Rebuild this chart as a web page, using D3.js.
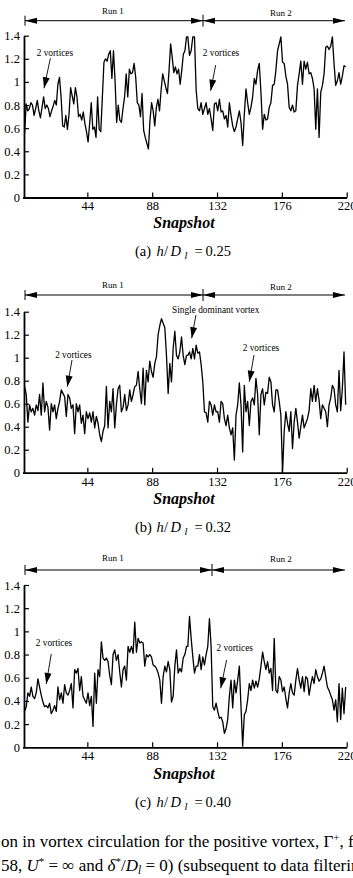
<!DOCTYPE html>
<html><head><meta charset="utf-8">
<script src="https://cdn.jsdelivr.net/npm/d3@7"></script>
<style>
body{margin:0;background:#fff;}
svg{display:block;font-family:"Liberation Serif","Times New Roman",serif;}
</style></head>
<body><svg id="c" width="353" height="878"></svg>
<script>
// ---------- DATA ----------
const xTicks = [44, 88, 132, 176, 220];
const yTicks = [0, 0.2, 0.4, 0.6, 0.8, 1, 1.2, 1.4];
const captions = ["0.25", "0.32", "0.40"];
const captionLetters = ["(a)", "(b)", "(c)"];
// Γ+ per snapshot, first part = Run 1 region, second part = remainder
const gammaA1 = [0.55,0.81,0.75,0.77,0.82,0.80,0.71,0.77,0.84,0.75,0.69,0.78,0.87,0.77,0.80,0.77,0.70,0.75,0.79,0.84,
 0.80,0.98,1.04,0.87,0.62,0.61,0.71,0.59,0.72,0.95,0.88,0.81,0.95,0.87,0.70,0.72,0.67,0.74,0.64,0.57,
 0.48,0.64,0.82,0.59,0.61,0.52,0.87,0.59,0.57,0.87,1.17,1.20,1.18,1.24,1.27,1.03,1.27,1.01,0.65,0.80,
 0.67,0.65,0.77,0.87,1.07,0.87,1.11,1.07,1.08,1.16,1.04,0.82,0.80,0.70,0.90,0.58,0.52,0.47,0.42,0.67,
 0.82,0.75,0.62,0.78,0.85,0.75,0.93,1.07,1.01,0.95,0.90,1.10,1.33,1.21,1.08,1.13,1.07,1.11,0.98,1.10,
 1.24,1.27,1.39];
const gammaA2 = [1.39,1.23,1.27,1.39,1.39,0.93,0.77,0.75,0.82,0.72,0.77,0.82,0.72,0.77,0.68,0.58,0.81,0.82,0.75,0.85,
 0.74,0.75,0.68,0.71,0.61,0.82,0.71,0.62,0.57,0.61,0.68,0.75,0.65,0.45,0.72,0.94,0.82,0.72,0.78,0.87,
 1.03,0.98,1.10,1.16,0.91,0.59,0.72,0.67,0.68,0.78,0.82,0.97,0.98,1.10,1.27,1.33,1.39,1.17,1.16,1.05,
 0.98,0.78,0.75,0.80,0.74,0.75,0.97,1.07,1.18,0.98,1.18,1.11,1.17,1.07,1.08,1.03,0.94,0.59,0.94,0.52,
 0.91,0.97,1.07,1.30,1.31,1.28,1.31,1.39,1.16,0.97,1.01,1.08,0.98,1.05,1.14,1.13];
const gammaB1 = [0.75,0.68,0.44,0.59,0.53,0.56,0.50,0.59,0.54,0.68,0.50,0.78,0.53,0.62,0.57,0.37,0.60,0.53,0.59,0.47,
 0.56,0.62,0.72,0.69,0.66,0.49,0.68,0.65,0.56,0.59,0.34,0.60,0.53,0.59,0.43,0.50,0.34,0.53,0.47,0.52,
 0.44,0.53,0.39,0.49,0.43,0.33,0.27,0.36,0.41,0.75,0.39,0.62,0.53,0.73,0.39,0.59,0.73,0.76,0.53,0.57,
 0.68,0.54,0.59,0.72,0.62,0.68,0.75,0.76,0.88,0.73,0.60,0.91,0.59,0.89,0.79,0.97,0.88,0.83,0.95,1.01,
 1.20,1.28,1.34,1.30,1.26,1.02,0.69,0.95,0.79,1.08,1.23,1.02,0.99,1.05,1.18,1.02,0.94,1.02];
const gammaB2 = [1.02,1.05,0.99,1.08,0.99,1.11,1.04,1.05,0.94,0.79,0.53,0.52,0.44,0.62,0.59,0.50,0.59,0.53,0.53,0.44,
 0.62,0.60,0.47,0.41,0.50,0.39,0.33,0.39,0.11,0.50,0.59,0.78,0.59,0.18,0.76,0.53,0.62,0.41,0.62,0.65,
 0.59,0.82,0.68,0.33,0.68,0.73,0.59,0.70,0.69,0.83,0.79,0.59,0.53,0.72,0.72,0.62,0.50,0.00,0.36,0.53,
 0.43,0.36,0.53,0.21,0.44,0.56,0.44,0.30,0.40,0.50,0.39,0.43,0.47,0.54,0.73,0.62,0.76,0.62,0.73,0.63,
 0.47,0.59,0.56,0.53,0.40,0.59,0.65,0.76,0.73,0.59,0.53,0.89,0.54,0.73,1.05,0.59];
const gammaC1 = [0.31,0.35,0.47,0.44,0.52,0.44,0.42,0.47,0.59,0.52,0.45,0.39,0.35,0.36,0.34,0.38,0.29,0.32,0.36,0.31,
 0.52,0.41,0.47,0.38,0.54,0.47,0.45,0.49,0.55,0.34,0.67,0.64,0.68,0.49,0.61,0.44,0.41,0.38,0.47,0.36,
 0.44,0.18,0.64,0.38,0.67,0.61,0.91,0.77,0.75,0.77,0.74,0.62,0.54,0.80,0.84,0.75,0.80,0.65,0.52,0.67,
 0.70,0.58,0.87,0.82,0.87,0.81,1.08,0.82,0.94,0.90,0.91,0.90,0.70,0.80,0.78,0.80,0.78,0.71,0.70,0.68,
 0.64,0.58,0.38,0.61,0.70,0.65,0.74,0.67,0.39,0.44,0.70,0.84,0.64,0.68,0.65,0.77,0.80,0.87];
const gammaC2 = [0.87,1.13,0.94,0.78,0.64,0.70,0.70,0.80,0.67,0.78,0.71,0.80,0.87,1.11,0.87,0.35,0.32,0.38,0.31,0.25,
 0.26,0.22,0.12,0.16,0.24,0.44,0.58,0.34,0.58,0.47,0.58,0.70,0.35,0.01,0.28,0.31,0.41,0.55,0.49,0.58,
 0.51,0.57,0.52,0.59,0.70,0.82,0.74,0.67,0.74,0.64,0.68,0.49,0.94,0.49,0.47,0.61,0.58,0.48,0.52,0.42,
 0.34,0.47,0.55,0.47,0.45,0.58,0.68,0.58,0.51,0.61,0.48,0.61,0.59,0.45,0.54,0.61,0.55,0.67,0.61,0.57,
 0.59,0.64,0.70,0.61,0.52,0.49,0.45,0.41,0.32,0.41,0.22,0.55,0.24,0.51,0.29,0.52];
const runBoundary = [122.5, 122.5, 128.6];
const runLabels = ["Run 1", "Run 2"];
// annotations: [text, textSnap, textVal, fromSnap, fromVal, tipSnap, tipVal]
const notesA = [["2 vortices",22.0,1.247,18.9,1.204,14.6,0.945],["2 vortices",134.7,1.247,131.1,1.146,127.7,0.924]];
const notesB = [["2 vortices",34.5,1.023,33.6,0.980,30.4,0.748],["Single dominant vortex",131.1,1.415,117.7,1.371,114.8,1.169],["2 vortices",161.8,1.087,157.1,1.023,153.9,0.791]];
const notesC = [["2 vortices",21.4,0.897,19.5,0.805,16.1,0.546],["2 vortices",144.0,0.854,138.5,0.753,134.5,0.509]];

// ---------- DRAW ----------
const svg = d3.select("#c");
const x = d3.scaleLinear().domain([0, 220]).range([22.5, 346.7]);
const panels = [
  {p1: gammaA1, p2: gammaA2, y0: 197.5, y14: 35.7, arrowY: 20.7, lab: [10.7, 13.3], snapY: 222.7, capY: 251, notes: notesA},
  {p1: gammaB1, p2: gammaB2, y0: 472.7, y14: 311.7, arrowY: 295, lab: [285, 287.3], snapY: 498, capY: 527, notes: notesB},
  {p1: gammaC1, p2: gammaC2, y0: 747.3, y14: 585, arrowY: 570, lab: [558, 559], snapY: 773, capY: 801.7, notes: notesC}
];

function tri(g, tipX, tipY, dx, dy, len, hw) {
  const L = Math.hypot(dx, dy), ux = dx / L, uy = dy / L;
  const bx = tipX - ux * len, by = tipY - uy * len;
  g.append("path").attr("d", `M${tipX},${tipY}L${bx - uy*hw},${by + ux*hw}L${bx + uy*hw},${by - ux*hw}Z`).attr("fill", "#000");
}

panels.forEach((P, k) => {
  const y = d3.scaleLinear().domain([0, 1.4]).range([P.y0, P.y14]);
  const g = svg.append("g");
  const vals = P.p1.concat(P.p2);
  const n1 = P.p1.length, n = vals.length;
  const snap = d3.scaleLinear().domain([0, n1 - 1, n1, n - 1]).range([1.4, 111.3, 112.2, 219.3]);

  // axes
  const xa = d3.axisBottom(x).tickValues(xTicks).tickSize(-5).tickSizeOuter(0).tickPadding(4).tickFormat(d3.format("d"));
  const gx = g.append("g").attr("transform", `translate(0,${P.y0})`).call(xa);
  gx.select(".domain").attr("stroke-width", 1.8);
  gx.selectAll(".tick line").attr("stroke-width", 1.2);
  gx.selectAll("text").attr("font-size", 12.5).attr("font-family", "Liberation Serif").attr("fill", "#000");

  const ya = d3.axisLeft(y).tickValues(yTicks).tickSize(-5).tickSizeOuter(0).tickPadding(4).tickFormat(d => String(+d.toFixed(1)));
  const gy = g.append("g").attr("transform", `translate(${x(1)},0)`).call(ya);
  gy.select(".domain").attr("stroke-width", 1.8);
  gy.selectAll(".tick line").attr("stroke-width", 1.2);
  gy.selectAll(".tick").filter(d => d === 0).select("line").remove();
  gy.selectAll("text").attr("font-size", 12.5).attr("font-family", "Liberation Serif").attr("fill", "#000");

  // data line
  g.append("path").datum(vals)
    .attr("d", d3.line().x((d, i) => x(snap(i))).y(d => y(d)))
    .attr("fill", "none").attr("stroke", "#000").attr("stroke-width", 1.3).attr("stroke-linejoin", "round");

  // run arrows
  const ay = P.arrowY, xl = x(1.7), xm = x(runBoundary[k]), xr = x(218.8);
  g.append("line").attr("x1", xl).attr("x2", xr).attr("y1", ay).attr("y2", ay).attr("stroke", "#000").attr("stroke-width", 1);
  g.append("line").attr("x1", xl).attr("x2", xl).attr("y1", ay - 5).attr("y2", ay + 5).attr("stroke", "#000").attr("stroke-width", 1);
  g.append("line").attr("x1", xm).attr("x2", xm).attr("y1", ay - 6).attr("y2", ay + 6).attr("stroke", "#000").attr("stroke-width", 1);
  tri(g, xl, ay, -1, 0, 12, 3);
  tri(g, xm, ay, 1, 0, 12, 3);
  tri(g, xm, ay, -1, 0, 12, 3);
  tri(g, xr, ay, 1, 0, 12, 3);
  g.append("text").attr("x", x(61.4)).attr("y", P.lab[0]).attr("text-anchor", "middle").attr("dominant-baseline", "central").attr("font-size", 9).text(runLabels[0]);
  g.append("text").attr("x", x(175.4)).attr("y", P.lab[1]).attr("text-anchor", "middle").attr("dominant-baseline", "central").attr("font-size", 9).text(runLabels[1]);

  // annotations
  P.notes.forEach(a => {
    g.append("text").attr("x", x(a[1])).attr("y", y(a[2])).attr("text-anchor", "middle").attr("dominant-baseline", "central").attr("font-size", 9.3).text(a[0]);
    const fx = x(a[3]), fy = y(a[4]), tx = x(a[5]), ty = y(a[6]);
    g.append("line").attr("x1", fx).attr("y1", fy).attr("x2", tx).attr("y2", ty).attr("stroke", "#000").attr("stroke-width", 0.9);
    tri(g, tx, ty, tx - fx, ty - fy, 11, 3.5);
  });

  // x label
  g.append("text").attr("x", 184).attr("y", P.snapY).attr("text-anchor", "middle").attr("dominant-baseline", "central")
    .attr("font-size", 16).attr("font-weight", "bold").attr("font-style", "italic").text("Snapshot");

  // caption (math-style spacing)
  const cy = P.capY + 5;
  const c = g.append("text").attr("y", cy).attr("font-size", 14.5);
  c.append("tspan").attr("x", 135).text(captionLetters[k]);
  c.append("tspan").attr("x", 156.5).attr("font-style", "italic").text("h");
  c.append("tspan").attr("x", 164).text("/");
  c.append("tspan").attr("x", 170.5).attr("font-style", "italic").text("D");
  c.append("tspan").attr("x", 184.5).attr("y", cy + 3).attr("font-style", "italic").attr("font-size", 10.5).text("l");
  c.append("tspan").attr("x", 194.5).attr("y", cy).text("=");
  c.append("tspan").attr("x", 205.5).text(captions[k]);
});

// figure caption fragment
const t1 = svg.append("text").attr("x", 1).attr("y", 847).attr("font-size", 17);
t1.append("tspan").text("on in vortex circulation for the positive vortex, Γ");
t1.append("tspan").attr("font-size", 11).attr("dy", -6).text("+");
t1.append("tspan").attr("dy", 6).text(", for");
const t2 = svg.append("text").attr("x", 1).attr("y", 871).attr("font-size", 17);
t2.append("tspan").text("58, ");
t2.append("tspan").attr("font-style", "italic").text("U");
t2.append("tspan").attr("font-size", 11).attr("dy", -6).text("*");
t2.append("tspan").attr("dy", 6).text(" = ∞ and ");
t2.append("tspan").attr("font-style", "italic").text("δ");
t2.append("tspan").attr("font-size", 11).attr("dy", -6).text("*");
t2.append("tspan").attr("dy", 6).text("/");
t2.append("tspan").attr("font-style", "italic").text("D");
t2.append("tspan").attr("font-style", "italic").attr("font-size", 11.5).attr("dy", 3).text("l");
t2.append("tspan").attr("dy", -3).text(" = 0) (subsequent to data filtering)");
</script></body></html>
